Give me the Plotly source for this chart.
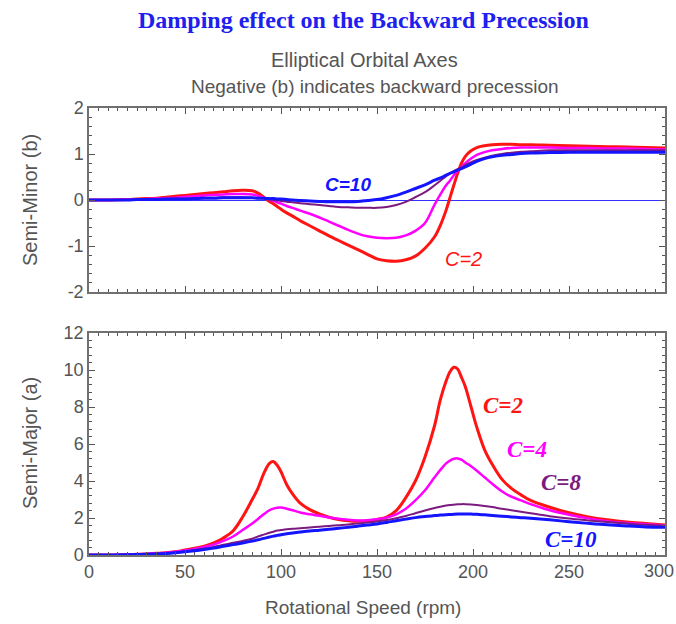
import plotly.graph_objects as go

rpm = [0, 10, 20, 25, 30, 35, 40, 45, 50, 55, 60, 65, 70, 75, 80, 85, 88, 91, 94, 96, 98, 100,
       103, 106, 110, 115, 120, 125, 130, 135, 140, 145, 150, 155, 160, 165, 170, 175, 180, 183,
       186, 188, 190, 192, 194, 196, 199, 202, 206, 210, 215, 220, 225, 230, 240, 250, 260, 270,
       280, 290, 300]

# Semi-major axis (a)
a_c2 = [0, 0, 0.02, 0.04, 0.06, 0.09, 0.12, 0.18, 0.27, 0.36, 0.48, 0.65, 0.92, 1.3, 2.05, 3.0,
        3.6, 4.4, 4.95, 5.05, 4.85, 4.5, 3.8, 3.3, 2.8, 2.45, 2.22, 2.04, 1.92, 1.85, 1.82, 1.84,
        1.92, 2.05, 2.4, 3.1, 4.0, 5.3, 7.0, 8.4, 9.4, 9.9, 10.15, 10.05, 9.6, 9.1, 8.0, 6.9, 5.7,
        4.9, 4.1, 3.6, 3.25, 2.95, 2.58, 2.28, 2.06, 1.9, 1.78, 1.7, 1.62]
a_c4 = [0, 0, 0.02, 0.04, 0.06, 0.09, 0.12, 0.18, 0.25, 0.33, 0.43, 0.57, 0.76, 1.0, 1.35, 1.7,
        1.95, 2.2, 2.42, 2.51, 2.56, 2.57, 2.5, 2.42, 2.3, 2.2, 2.12, 2.03, 1.96, 1.9, 1.87, 1.88,
        1.93, 2.02, 2.2, 2.5, 2.95, 3.5, 4.2, 4.6, 4.95, 5.1, 5.2, 5.22, 5.15, 5.0, 4.8, 4.55, 4.2,
        3.85, 3.45, 3.15, 2.95, 2.75, 2.42, 2.18, 1.98, 1.83, 1.73, 1.66, 1.6]
a_c8 = [0, 0, 0.02, 0.03, 0.04, 0.06, 0.08, 0.12, 0.2, 0.27, 0.35, 0.44, 0.55, 0.66, 0.76, 0.88,
        1.0, 1.1, 1.2, 1.26, 1.32, 1.35, 1.39, 1.42, 1.45, 1.49, 1.53, 1.57, 1.61, 1.65, 1.7, 1.75,
        1.81, 1.89, 1.99, 2.11, 2.26, 2.41, 2.54, 2.61, 2.67, 2.7, 2.72, 2.74, 2.75, 2.75, 2.73,
        2.7, 2.65, 2.59, 2.5, 2.42, 2.34, 2.26, 2.1, 1.97, 1.87, 1.78, 1.7, 1.63, 1.58]
a_c10 = [0, 0, 0.02, 0.03, 0.04, 0.06, 0.08, 0.12, 0.17, 0.23, 0.3, 0.38, 0.47, 0.56, 0.65, 0.75,
         0.82, 0.9, 0.97, 1.02, 1.06, 1.1, 1.15, 1.19, 1.24, 1.3, 1.34, 1.39, 1.44, 1.5, 1.56,
         1.62, 1.68, 1.76, 1.85, 1.94, 2.02, 2.08, 2.13, 2.16, 2.18, 2.19, 2.2, 2.21, 2.22, 2.22,
         2.21, 2.2, 2.17, 2.14, 2.1, 2.06, 2.02, 1.98, 1.9, 1.8, 1.71, 1.63, 1.57, 1.52, 1.5]

# Semi-minor axis (b)
b_c2 = [0, 0, 0.01, 0.02, 0.03, 0.04, 0.06, 0.08, 0.1, 0.12, 0.14, 0.16, 0.18, 0.2, 0.21, 0.2,
        0.15, 0.06, -0.03, -0.08, -0.14, -0.2, -0.28, -0.35, -0.45, -0.56, -0.67, -0.78, -0.88,
        -0.98, -1.08, -1.18, -1.28, -1.32, -1.33, -1.3, -1.22, -1.05, -0.8, -0.55, -0.22, 0.05,
        0.32, 0.58, 0.8, 0.95, 1.07, 1.14, 1.18, 1.2, 1.21, 1.21, 1.2, 1.2, 1.19, 1.18, 1.17, 1.16,
        1.15, 1.14, 1.13]
b_c4 = [0, 0, 0.01, 0.01, 0.02, 0.03, 0.04, 0.05, 0.07, 0.08, 0.1, 0.11, 0.12, 0.13, 0.13, 0.12,
        0.09, 0.05, 0.01, -0.02, -0.05, -0.08, -0.13, -0.17, -0.23, -0.3, -0.38, -0.47, -0.56,
        -0.65, -0.73, -0.79, -0.82, -0.83, -0.82, -0.77, -0.67, -0.5, -0.1, 0.12, 0.32, 0.42, 0.54,
        0.63, 0.72, 0.8, 0.9, 0.98, 1.04, 1.08, 1.11, 1.13, 1.14, 1.14, 1.14, 1.13, 1.13, 1.12,
        1.12, 1.11, 1.1]
b_c8 = [0, 0, 0, 0.01, 0.01, 0.02, 0.02, 0.03, 0.03, 0.04, 0.05, 0.05, 0.06, 0.06, 0.06, 0.05,
        0.04, 0.03, 0.01, 0.0, -0.01, -0.02, -0.04, -0.05, -0.07, -0.09, -0.11, -0.13, -0.15,
        -0.16, -0.17, -0.17, -0.17, -0.15, -0.11, -0.04, 0.06, 0.17, 0.32, 0.42, 0.52, 0.58, 0.63,
        0.67, 0.71, 0.76, 0.82, 0.87, 0.92, 0.96, 1.0, 1.03, 1.05, 1.06, 1.08, 1.08, 1.08, 1.08,
        1.08, 1.08, 1.08]
b_c10 = [0, 0, 0, 0.01, 0.01, 0.01, 0.02, 0.02, 0.02, 0.03, 0.04, 0.04, 0.05, 0.05, 0.05, 0.05,
         0.04, 0.04, 0.03, 0.03, 0.02, 0.02, 0.01, 0.0, -0.01, -0.02, -0.03, -0.04, -0.04, -0.04,
         -0.03, -0.01, 0.01, 0.05, 0.1, 0.17, 0.25, 0.33, 0.43, 0.48, 0.54, 0.58, 0.61, 0.65, 0.68,
         0.72, 0.78, 0.84, 0.9, 0.94, 0.97, 0.99, 1.01, 1.02, 1.03, 1.04, 1.04, 1.04, 1.04, 1.04,
         1.04]

b_ticks = [-2, -1, 0, 1, 2]
b_ticktext = ["-2", "-1", "0", "1", "2"]
x_ticks = [0, 50, 100, 150, 200, 250]
x_ticktext = ["0", "50", "100", "150", "200", "250"]
x_last = "300"

series = [
    ("C=2", b_c2, a_c2, "#ff1414", 3),
    ("C=4", b_c4, a_c4, "#ff00ff", 2.5),
    ("C=8", b_c8, a_c8, "#7d1a80", 2),
    ("C=10", b_c10, a_c10, "#1414ff", 3),
]

fig = go.Figure()
for name, b, a, col, w in series:
    fig.add_trace(go.Scatter(x=rpm, y=b, mode="lines", name=name, showlegend=False,
                             line=dict(color=col, width=w, shape="spline"),
                             xaxis="x", yaxis="y"))
    fig.add_trace(go.Scatter(x=rpm, y=a, mode="lines", name=name, showlegend=False,
                             line=dict(color=col, width=w, shape="spline"),
                             xaxis="x2", yaxis="y2"))

W, H = 676, 624
T, B, L, R = 108, 69, 89, 11
ph = H - T - B
pw = W - L - R


def py(pix):
    return (H - B - pix) / ph


def px(pix):
    return (pix - L) / pw


frame = "#707070"
tickfont = dict(family="Liberation Sans, Arial", size=18, color="#555555")
common = dict(showline=True, linecolor=frame, linewidth=1.5, mirror="allticks",
              ticks="inside", ticklen=6, tickcolor="#555555", tickwidth=1,
              showgrid=False, tickfont=tickfont, automargin=False)

fig.update_layout(
    width=W, height=H,
    margin=dict(l=L, r=R, t=T, b=B, autoexpand=False),
    paper_bgcolor="white", plot_bgcolor="white",
    xaxis=dict(domain=[0, 1], anchor="y", range=[0, 300], dtick=50, showticklabels=False,
               zeroline=False, minor=dict(ticks="inside", dtick=5, ticklen=3, tickcolor="#555555"),
               **common),
    yaxis=dict(domain=[py(292), 1], anchor="x", range=[-2, 2],
               tickmode="array", tickvals=b_ticks, ticktext=b_ticktext,
               zeroline=True, zerolinecolor="#3030ff", zerolinewidth=1.2,
               minor=dict(ticks="inside", dtick=0.2, ticklen=3, tickcolor="#555555"),
               **common),
    xaxis2=dict(domain=[0, 1], anchor="y2", range=[0, 300],
                tickmode="array", tickvals=x_ticks, ticktext=x_ticktext, zeroline=False,
                minor=dict(ticks="inside", dtick=5, ticklen=3, tickcolor="#555555"),
                **common),
    yaxis2=dict(domain=[0, py(333)], anchor="x2", range=[0, 12], dtick=2, zeroline=False,
                minor=dict(ticks="inside", dtick=0.4, ticklen=3, tickcolor="#555555"),
                **common),
)

gray = "#555555"
ann = [
    dict(text="<b>Damping effect on the Backward Precession</b>", x=px(363), y=py(20),
         xanchor="center",
         font=dict(family="Liberation Serif, Times New Roman", size=24, color="#2020ee")),
    dict(text="Elliptical Orbital Axes", x=px(364), y=py(60), xanchor="center",
         font=dict(family="Liberation Sans, Arial", size=20, color=gray)),
    dict(text="Negative (b) indicates backward precession", x=px(375), y=py(87),
         xanchor="center",
         font=dict(family="Liberation Sans, Arial", size=19, color=gray)),
    dict(text="Semi-Minor (b)", x=px(30), y=py(200), textangle=-90, xanchor="center",
         font=dict(family="Liberation Sans, Arial", size=20, color=gray)),
    dict(text="Semi-Major (a)", x=px(30), y=py(443), textangle=-90, xanchor="center",
         font=dict(family="Liberation Sans, Arial", size=20, color=gray)),
    dict(text="Rotational Speed (rpm)", x=px(363), y=py(607), xanchor="center",
         font=dict(family="Liberation Sans, Arial", size=19, color=gray)),
    # last x tick label, kept inside the page edge
    dict(text=x_last, x=px(675), y=py(571), xanchor="right", font=tickfont),
]
for a_ in ann:
    fig.add_annotation(xref="paper", yref="paper", showarrow=False,
                       yanchor="middle", borderpad=0, **a_)

# curve labels in data coordinates
fig.add_annotation(x=135, y=0.33, xref="x", yref="y", text="<b><i>C=10</i></b>", showarrow=False,
                   font=dict(family="Liberation Sans, Arial", size=19, color="#1414ff"))
fig.add_annotation(x=195, y=-1.28, xref="x", yref="y", text="<i>C=2</i>", showarrow=False,
                   font=dict(family="Liberation Sans, Arial", size=20, color="#ff1414"))
lab = [("C=2", 215.6, 8.1, "#ff1414"), ("C=4", 228, 5.68, "#ff00ff"),
       ("C=8", 246, 3.9, "#7d1a80"), ("C=10", 251, 0.86, "#1414ff")]
for t, xx, yy, c in lab:
    fig.add_annotation(x=xx, y=yy, xref="x2", yref="y2", text="<b><i>" + t + "</i></b>",
                       showarrow=False,
                       font=dict(family="Liberation Serif, Times New Roman", size=23, color=c))

fig.write_html("out.html")
